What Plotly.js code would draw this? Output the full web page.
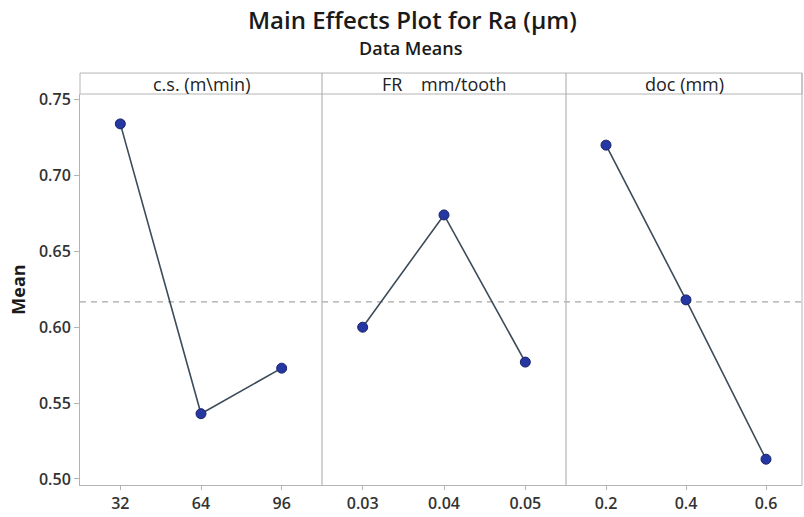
<!DOCTYPE html>
<html>
<head>
<meta charset="utf-8">
<script src="https://cdn.plot.ly/plotly-3.0.1.min.js"></script>
<style>html,body{margin:0;padding:0;background:#fff;}</style>
</head>
<body>
<div id="chart" style="width:804px;height:517px;"></div>
<script>
// Factor levels (tick labels)
const csLevels = [32, 64, 96];
const frLevels = [0.03, 0.04, 0.05];
const docLevels = [0.2, 0.4, 0.6];
// Mean Ra for each level
const csMeans = [0.734, 0.543, 0.573];
const frMeans = [0.600, 0.674, 0.577];
const docMeans = [0.720, 0.618, 0.513];
// Grand mean
const grandMean = 0.6167;
// Panel headers
const panelNames = ["c.s. (m\\min)", "FR\u00a0\u00a0\u00a0\u00a0mm/tooth", "doc (mm)"];
const yTicks = [0.50, 0.55, 0.60, 0.65, 0.70, 0.75];

const FONT = "Open Sans, Segoe UI, sans-serif";
const GRID = "#b4b4b4";
const d1 = 242/722, d2 = 486/722;
const stripTop = 1 + 21/391.6;

function tr(x, y, xa) {
  return {
    x: x, y: y, xaxis: xa, yaxis: 'y', type: 'scatter', mode: 'lines+markers',
    line: {color: '#3c4c5a', width: 1.6},
    marker: {color: '#2437a3', size: 10, line: {color: '#1b2468', width: 1}},
    hoverinfo: 'x+y', showlegend: false, cliponaxis: false
  };
}
const data = [
  tr(csLevels, csMeans, 'x'),
  tr(frLevels, frMeans, 'x2'),
  tr(docLevels, docMeans, 'x3')
];

function xax(domain, range, vals, txt) {
  return {
    domain: domain, range: range, anchor: 'y',
    tickvals: vals, ticktext: txt,
    showgrid: false, zeroline: false, showline: true, linecolor: GRID, linewidth: 1,
    ticks: 'outside', ticklen: 4, tickcolor: GRID,
    tickfont: {family: FONT, size: 16, color: '#333', weight: 600}
  };
}

const layout = {
  width: 804, height: 517,
  margin: {l: 80, r: 2, t: 94, b: 32},
  paper_bgcolor: '#fff', plot_bgcolor: '#fff',
  showlegend: false,
  xaxis: xax([0, d1], [16, 112], csLevels, csLevels.map(String)),
  xaxis2: xax([d1, d2], [0.025, 0.055], frLevels, frLevels.map(v => v.toFixed(2))),
  xaxis3: xax([d2, 1], [0.1, 0.69], docLevels, docLevels.map(v => v.toFixed(1))),
  yaxis: {
    range: [0.496, 0.7537], tickvals: yTicks, ticktext: yTicks.map(v => v.toFixed(2)),
    showgrid: false, zeroline: false, showline: true, linecolor: GRID, linewidth: 1,
    ticks: 'outside', ticklen: 5, tickcolor: GRID,
    tickfont: {family: FONT, size: 16, color: '#333', weight: 600},
    title: {text: 'Mean', font: {family: FONT, size: 18, color: '#1a1a1a', weight: 700}, standoff: 8}
  },
  shapes: [
    {type: 'rect', xref: 'paper', yref: 'paper', x0: 0, x1: 1, y0: 1, y1: stripTop, line: {color: GRID, width: 1}, fillcolor: 'rgba(0,0,0,0)'},
    {type: 'line', xref: 'paper', yref: 'paper', x0: d1, x1: d1, y0: 0, y1: stripTop, line: {color: GRID, width: 1.2}},
    {type: 'line', xref: 'paper', yref: 'paper', x0: d2, x1: d2, y0: 0, y1: stripTop, line: {color: GRID, width: 1.2}},
    {type: 'line', xref: 'paper', yref: 'paper', x0: 1, x1: 1, y0: 0, y1: stripTop, line: {color: GRID, width: 1}},
    {type: 'line', xref: 'paper', yref: 'y', x0: 0, x1: 1, y0: grandMean, y1: grandMean, line: {color: '#a8a8a8', width: 1.3, dash: '6px,5px'}, layer: 'below'}
  ],
  annotations: [
    {text: 'Main Effects Plot for Ra (µm)', xref: 'paper', yref: 'paper', x: 0.46, y: 1, yshift: 75, xanchor: 'center', yanchor: 'middle', showarrow: false,
     font: {family: FONT, size: 24, color: '#1a1a1a', weight: 600}},
    {text: 'Data Means', xref: 'paper', yref: 'paper', x: 0.458, y: 1, yshift: 46, xanchor: 'center', yanchor: 'middle', showarrow: false,
     font: {family: FONT, size: 18, color: '#1a1a1a', weight: 600}},
    {text: panelNames[0], xref: 'paper', yref: 'paper', x: d1/2, y: (1+stripTop)/2, xanchor: 'center', yanchor: 'middle', showarrow: false,
     font: {family: FONT, size: 18, color: '#222'}},
    {text: panelNames[1], xref: 'paper', yref: 'paper', x: (d1+d2)/2, y: (1+stripTop)/2, xanchor: 'center', yanchor: 'middle', showarrow: false,
     font: {family: FONT, size: 18, color: '#222'}},
    {text: panelNames[2], xref: 'paper', yref: 'paper', x: (d2+1)/2, y: (1+stripTop)/2, xanchor: 'center', yanchor: 'middle', showarrow: false,
     font: {family: FONT, size: 18, color: '#222'}}
  ]
};

Plotly.newPlot('chart', data, layout, {displayModeBar: false, staticPlot: true});
</script>
</body>
</html>
